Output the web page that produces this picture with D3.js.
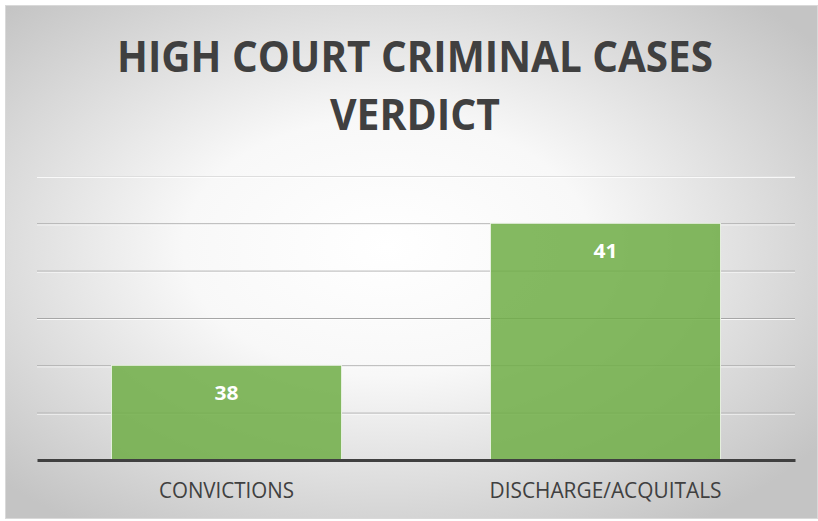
<!DOCTYPE html>
<html>
<head>
<meta charset="utf-8">
<script src="https://cdn.jsdelivr.net/npm/d3@7"></script>
<style>
    html, body { margin: 0; padding: 0; background: #fff; }
    svg { display: block; }
</style>
</head>
<body>
<div id="chart"></div>
<script>
    const titleLines = ["HIGH COURT CRIMINAL CASES", "VERDICT"];
    const categories = ["CONVICTIONS", "DISCHARGE/ACQUITALS"];
    const verdicts = [38, 41];
    const yDomain = [36, 42];
    const yTicks = [37, 38, 39, 40, 41, 42];

    const width = 818, height = 521;
    const margin = { left: 37, right: 23, top: 176, bottom: 61 };

    const svg = d3.select("#chart")
        .append("svg")
        .attr("width", width)
        .attr("height", height);

    // background panel with soft radial shading
    const defs = svg.append("defs");
    const grad = defs.append("radialGradient")
        .attr("id", "bg")
        .attr("cx", "47%").attr("cy", "47%").attr("r", "66%");
    grad.append("stop").attr("offset", "0%").attr("stop-color", "#ffffff");
    grad.append("stop").attr("offset", "38%").attr("stop-color", "#f8f8f8");
    grad.append("stop").attr("offset", "100%").attr("stop-color", "#c4c4c4");

    svg.append("rect")
        .attr("x", 5.5).attr("y", 5.5)
        .attr("width", width - 6).attr("height", height - 8)
        .attr("fill", "url(#bg)")
        .attr("stroke", "#d9d9d9");

    const x = d3.scaleBand()
        .domain(categories)
        .range([margin.left, width - margin.right])
        .paddingInner(0.393)
        .paddingOuter(0.1965);

    const y = d3.scaleLinear()
        .domain(yDomain)
        .range([height - margin.bottom, margin.top]);

    // gridlines (grey line with a light edge under it)
    const grid = svg.append("g")
        .attr("transform", `translate(${margin.left},0)`)
        .call(d3.axisLeft(y)
            .tickValues(yTicks)
            .tickSize(-(width - margin.left - margin.right))
            .tickFormat(""));
    grid.select(".domain").remove();
    grid.selectAll(".tick line")
        .attr("stroke", d => d === yDomain[1] ? "#dedede" : "#a6a6a6")
        .attr("stroke-width", 1);
    grid.selectAll(".tick")
        .append("line")
        .attr("x2", width - margin.left - margin.right)
        .attr("y1", 1).attr("y2", 1)
        .attr("stroke", "#ffffff")
        .attr("stroke-opacity", 0.8);

    // bars
    svg.selectAll("rect.bar")
        .data(verdicts)
        .enter().append("rect")
        .attr("class", "bar")
        .attr("x", (d, i) => x(categories[i]))
        .attr("y", d => y(d))
        .attr("width", x.bandwidth())
        .attr("height", d => y(yDomain[0]) - y(d))
        .attr("fill", "#70ad47")
        .attr("fill-opacity", 0.86)
        .attr("stroke", "#e6f0df")
        .attr("stroke-width", 1);

    svg.selectAll("text.value")
        .data(verdicts)
        .enter().append("text")
        .attr("class", "value")
        .attr("x", (d, i) => x(categories[i]) + x.bandwidth() / 2)
        .attr("y", d => y(d) + 35)
        .attr("text-anchor", "middle")
        .attr("fill", "#ffffff")
        .style("font-family", "'Open Sans', sans-serif")
        .style("font-weight", "bold")
        .style("font-size", "20px")
        .attr("textLength", 24)
        .attr("lengthAdjust", "spacingAndGlyphs")
        .text(d => d);

    // baseline + category labels
    const xAxis = svg.append("g")
        .attr("transform", `translate(0,${y(yDomain[0])})`)
        .call(d3.axisBottom(x).tickSize(0).tickPadding(23));
    xAxis.select(".domain")
        .attr("stroke", "#404040")
        .attr("stroke-width", 3);
    xAxis.selectAll(".tick text")
        .attr("fill", "#404040")
        .style("font-family", "'Open Sans', sans-serif")
        .style("font-size", "21px")
        .attr("textLength", d => d === categories[0] ? 135 : 232)
        .attr("lengthAdjust", "spacingAndGlyphs");

    // title
    svg.append("g")
        .selectAll("text")
        .data(titleLines)
        .enter().append("text")
        .attr("x", 415)
        .attr("y", (d, i) => 72 + i * 58)
        .attr("text-anchor", "middle")
        .attr("fill", "#404040")
        .style("font-family", "'Open Sans', sans-serif")
        .style("font-weight", "bold")
        .style("font-size", "43px")
        .attr("textLength", (d, i) => i === 0 ? 596 : 170)
        .attr("lengthAdjust", "spacingAndGlyphs")
        .text(d => d);
</script>
</body>
</html>
